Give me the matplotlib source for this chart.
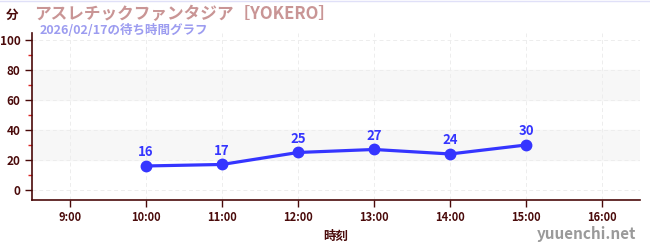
import matplotlib
matplotlib.use("Agg")
import matplotlib.pyplot as plt
from matplotlib.ticker import MultipleLocator

plt.rcParams['font.family'] = ['Noto Sans CJK JP', 'DejaVu Sans']

# data
hours = [10, 11, 12, 13, 14, 15]
waits = [16, 17, 25, 27, 24, 30]
xticks = [9, 10, 11, 12, 13, 14, 15, 16]
xlabels = [str(h) + ":00" for h in xticks]
yticks = [0, 20, 40, 60, 80, 100]

title = "アスレチックファンタジア［YOKERO］"
subtitle = "2026/02/17の待ち時間グラフ"

dark = "#4a0a0a"
blue = "#3535ff"

fig = plt.figure(figsize=(6.5, 2.5), dpi=100)
ax = fig.add_axes([0.049, 0.2, 0.936, 0.668])

ax.set_xlim(8.5, 16.5)
ax.set_ylim(-6.7, 104.7)

# shaded bands
ax.axhspan(20, 40, color="#f7f7f7", zorder=0)
ax.axhspan(60, 80, color="#f7f7f7", zorder=0)

ax.set_xticks(xticks)
ax.set_xticklabels(xlabels)
ax.set_yticks(yticks)
ax.yaxis.set_minor_locator(MultipleLocator(10))
ax.grid(True, which="major", color="#ededed", linestyle=(0, (4, 3)), lw=0.7)

for s in ["top", "right"]:
    ax.spines[s].set_visible(False)
for s in ["left", "bottom"]:
    ax.spines[s].set_color(dark)
    ax.spines[s].set_linewidth(1.2)

ax.tick_params(axis="both", which="major", colors=dark, length=5, width=1, pad=3)
ax.tick_params(axis="y", which="minor", colors="#dd2222", length=3, width=1)
for lb in ax.get_yticklabels():
    lb.set_fontsize(8.5)
    lb.set_fontweight("bold")
    lb.set_color(dark)
for lb in ax.get_xticklabels():
    lb.set_fontsize(8)
    lb.set_fontweight("bold")
    lb.set_color(dark)

ax.plot(hours, waits, color=blue, lw=2.3, marker="o", ms=7.5, zorder=3)
for h, w in zip(hours, waits):
    ax.annotate(str(w), (h, w), xytext=(0, 5), textcoords="offset points",
                ha="center", va="bottom", color=blue, fontsize=9.5, fontweight="bold")

ax.set_xlabel("時刻", fontsize=9, fontweight="bold", color=dark, labelpad=4)

fig.text(12 / 650, 1 - 15 / 250, "分", ha="center", va="center", fontsize=9,
         fontweight="bold", color=dark)
fig.text(34 / 650, 1 - 14 / 250, title, ha="left", va="center", fontsize=12,
         fontweight="bold", color="#c99595")
fig.text(40 / 650, 1 - 31 / 250, subtitle, ha="left", va="center", fontsize=9,
         fontweight="bold", color="#9c9cf0")
fig.text(636 / 650, 1 - 234 / 250, "yuuenchi.net", ha="right", va="center",
         fontsize=11, fontweight="bold", color="#9a9a9a")
fig.add_artist(plt.Line2D([0, 1], [0.998, 0.998], color="#e0e0f8", lw=1))

fig.savefig("out.png", dpi=100)
